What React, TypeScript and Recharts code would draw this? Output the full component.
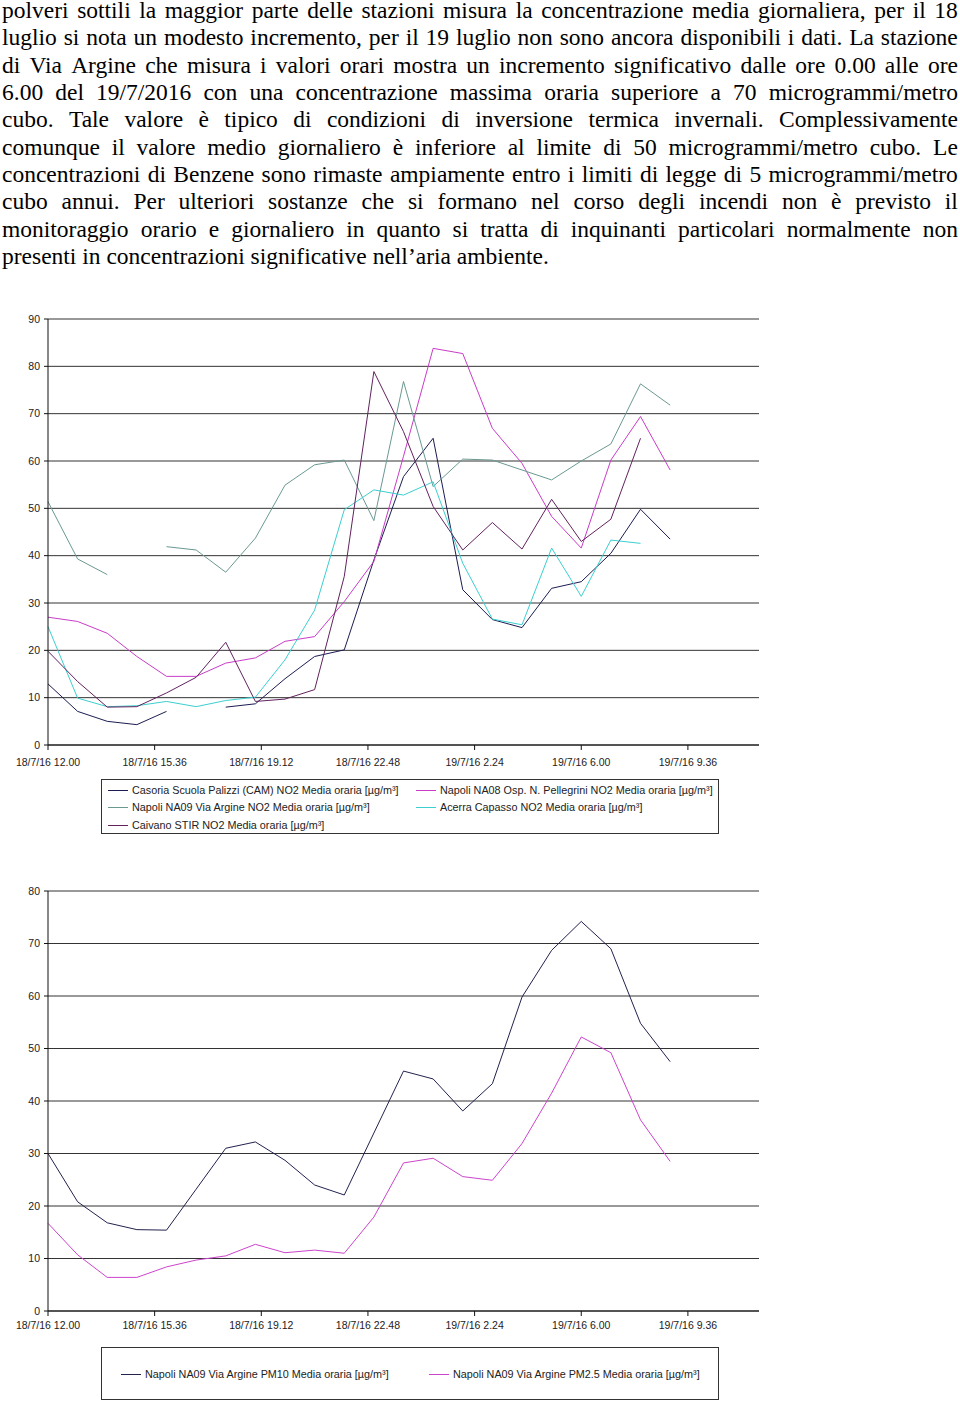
import React from 'react';
import { LineChart, Line, XAxis, YAxis, CartesianGrid } from 'recharts';

// ---------- text ----------
const paragraphLines = [
  'polveri sottili la maggior parte delle stazioni misura la concentrazione media giornaliera, per il 18',
  'luglio si nota un modesto incremento, per il 19 luglio non sono ancora disponibili i dati. La stazione',
  'di Via Argine che misura i valori orari mostra un incremento significativo dalle ore 0.00 alle ore',
  '6.00 del 19/7/2016 con una concentrazione massima oraria superiore a 70 microgrammi/metro',
  'cubo. Tale valore è tipico di condizioni di inversione termica invernali. Complessivamente',
  'comunque il valore medio giornaliero è inferiore al limite di 50 microgrammi/metro cubo. Le',
  'concentrazioni di Benzene sono rimaste ampiamente entro i limiti di legge di 5 microgrammi/metro',
  'cubo annui. Per ulteriori sostanze che si formano nel corso degli incendi non è previsto il',
  'monitoraggio orario e giornaliero in quanto si tratta di inquinanti particolari normalmente non',
  'presenti in concentrazioni significative nell\u2019aria ambiente.',
];

// ---------- data ----------
// hours elapsed since 18/7/16 12.00
const hours = [0, 1, 2, 3, 4, 5, 6, 7, 8, 9, 10, 11, 12, 13, 14, 15, 16, 17, 18, 19, 20, 21];
const xTickValues = [0, 3.6, 7.2, 10.8, 14.4, 18, 21.6];
const xTickLabels = [
  '18/7/16 12.00',
  '18/7/16 15.36',
  '18/7/16 19.12',
  '18/7/16 22.48',
  '19/7/16 2.24',
  '19/7/16 6.00',
  '19/7/16 9.36',
];
const no2Ticks = [0, 10, 20, 30, 40, 50, 60, 70, 80, 90];
const pmTicks = [0, 10, 20, 30, 40, 50, 60, 70, 80];

const casoria = [12.9, 7.1, 5.0, 4.3, 7.1, null, 8.0, 8.7, 14.0, 18.7, 20.1, 39.1, 56.7, 64.8, 32.8, 26.5, 24.8, 33.1, 34.5, 40.5, 49.8, 43.5];
const pellegrini = [27.0, 26.1, 23.6, 18.7, 14.5, 14.5, 17.3, 18.4, 21.9, 22.9, 30.3, 38.8, 61.0, 83.8, 82.7, 66.9, 59.5, 48.3, 41.6, 60.2, 69.4, 58.1];
const viaArgine = [51.4, 39.3, 36.0, null, 41.9, 41.2, 36.5, 43.7, 54.9, 59.2, 60.2, 47.4, 76.8, 54.6, 60.4, 60.2, 58.1, 56.0, 60.0, 63.6, 76.3, 71.8];
const acerra = [25.0, 9.9, 8.1, 8.3, 9.2, 8.1, 9.4, 10.1, 18.0, 28.5, 49.7, 53.9, 52.8, 55.6, 38.4, 26.6, 25.4, 41.6, 31.4, 43.3, 42.6, null];
const caivano = [19.8, 13.4, 8.0, 8.1, 11.0, 14.3, 21.7, 9.2, 9.7, 11.7, 35.6, 78.9, 66.2, 50.4, 41.2, 47.0, 41.4, 51.9, 43.0, 47.7, 64.8, null];

const pm10 = [30.0, 20.8, 16.8, 15.5, 15.4, 23.2, 31.0, 32.2, 28.7, 24.0, 22.1, 33.9, 45.7, 44.2, 38.1, 43.3, 59.8, 68.7, 74.2, 69.0, 54.8, 47.5];
const pm25 = [16.7, 10.7, 6.4, 6.4, 8.4, 9.7, 10.5, 12.7, 11.1, 11.6, 11.0, 17.9, 28.2, 29.1, 25.6, 24.9, 31.9, 41.5, 52.2, 49.2, 36.4, 28.5];

const no2Series = [
  { key: 'casoria', name: 'Casoria Scuola Palizzi (CAM) NO2 Media oraria [µg/m³]', color: '#1c1c52', values: casoria },
  { key: 'pellegrini', name: 'Napoli NA08 Osp. N. Pellegrini NO2 Media oraria [µg/m³]', color: '#c83cc8', values: pellegrini },
  { key: 'viaArgine', name: 'Napoli NA09 Via Argine NO2 Media oraria [µg/m³]', color: '#6a9992', values: viaArgine },
  { key: 'acerra', name: 'Acerra Capasso NO2 Media oraria [µg/m³]', color: '#3ccfcf', values: acerra },
  { key: 'caivano', name: 'Caivano STIR NO2 Media oraria [µg/m³]', color: '#62225e', values: caivano },
];

const pmSeries = [
  { key: 'pm10', name: 'Napoli NA09 Via Argine PM10 Media oraria [µg/m³]', color: '#22224e', values: pm10 },
  { key: 'pm25', name: 'Napoli NA09 Via Argine PM2.5 Media oraria [µg/m³]', color: '#cc44cc', values: pm25 },
];

const buildData = (series: { key: string; values: (number | null)[] }[]) =>
  hours.map((h, i) => {
    const row: Record<string, number | null> = { h };
    series.forEach((s) => {
      row[s.key] = s.values[i];
    });
    return row;
  });

const no2Data = buildData(no2Series);
const pmData = buildData(pmSeries);

const tickFont = { fontSize: 10.5, fontFamily: 'Arial, "Liberation Sans", sans-serif', fill: '#222' };
const formatX = (v: number) => {
  const idx = xTickValues.findIndex((t) => Math.abs(t - v) < 1e-6);
  return idx >= 0 ? xTickLabels[idx] : '';
};

const legendFont: React.CSSProperties = {
  fontSize: 10.8,
  fontFamily: 'Arial, "Liberation Sans", sans-serif',
  color: '#222',
  whiteSpace: 'nowrap',
};

function LegendItem({ x, y, color, name }: { x: number; y: number; color: string; name: string }) {
  return (
    <div style={{ position: 'absolute', left: x, top: y - 8, height: 16, display: 'flex', alignItems: 'center' }}>
      <div style={{ width: 20, height: 0, borderTop: `1.5px solid ${color}`, marginRight: 4 }} />
      <span style={legendFont}>{name}</span>
    </div>
  );
}

export default function App() {
  return (
    <div
      style={{
        position: 'absolute',
        left: 0,
        top: 0,
        width: 960,
        height: 1402,
        overflow: 'hidden',
        background: '#fff',
      }}
    >
      {paragraphLines.map((t, i) => {
        const last = i === paragraphLines.length - 1;
        const words = t.split(' ');
        return (
          <div
            key={i}
            style={{
              position: 'absolute',
              left: 2,
              top: -3 + i * 27.33,
              width: 956,
              height: 27.33,
              lineHeight: '27.33px',
              fontSize: 23.5,
              fontFamily: '"Liberation Serif", "Times New Roman", serif',
              color: '#000',
              display: 'flex',
              justifyContent: last ? 'flex-start' : 'space-between',
              whiteSpace: 'pre',
            }}
          >
            {last ? <span>{t}</span> : words.map((w, j) => <span key={j}>{w}</span>)}
          </div>
        );
      })}

      {/* NO2 chart */}
      <div style={{ position: 'absolute', left: 0, top: 300, width: 780, height: 480 }}>
        <LineChart width={780} height={480} data={no2Data} margin={{ top: 19, right: 21, bottom: 5, left: 0 }}>
          <CartesianGrid vertical={false} stroke="#333" strokeWidth={1} />
          <XAxis
            dataKey="h"
            type="number"
            domain={[0, 24]}
            ticks={xTickValues}
            interval={0}
            tickFormatter={formatX}
            height={30}
            tickSize={5}
            tickMargin={9}
            tick={tickFont}
            axisLine={{ stroke: '#111' }}
            tickLine={{ stroke: '#111' }}
          />
          <YAxis
            type="number"
            domain={[0, 90]}
            ticks={no2Ticks}
            interval={0}
            width={48}
            tickSize={4}
            tickMargin={4}
            tick={tickFont}
            axisLine={{ stroke: '#111' }}
            tickLine={{ stroke: '#111' }}
          />
          {no2Series.map((s) => (
            <Line
              key={s.key}
              type="linear"
              dataKey={s.key}
              name={s.name}
              stroke={s.color}
              strokeWidth={1}
              dot={false}
              activeDot={false}
              connectNulls={false}
              isAnimationActive={false}
            />
          ))}
        </LineChart>
      </div>

      {/* NO2 legend */}
      <div
        style={{
          position: 'absolute',
          left: 101,
          top: 779,
          width: 616,
          height: 53,
          border: '1px solid #333',
        }}
      >
        <LegendItem x={6} y={10} color={no2Series[0].color} name={no2Series[0].name} />
        <LegendItem x={314} y={10} color={no2Series[1].color} name={no2Series[1].name} />
        <LegendItem x={6} y={27} color={no2Series[2].color} name={no2Series[2].name} />
        <LegendItem x={314} y={27} color={no2Series[3].color} name={no2Series[3].name} />
        <LegendItem x={6} y={45} color={no2Series[4].color} name={no2Series[4].name} />
      </div>

      {/* PM chart */}
      <div style={{ position: 'absolute', left: 0, top: 880, width: 780, height: 460 }}>
        <LineChart width={780} height={460} data={pmData} margin={{ top: 11, right: 21, bottom: 4, left: 0 }}>
          <CartesianGrid vertical={false} stroke="#333" strokeWidth={1} />
          <XAxis
            dataKey="h"
            type="number"
            domain={[0, 24]}
            ticks={xTickValues}
            interval={0}
            tickFormatter={formatX}
            height={25}
            tickSize={5}
            tickMargin={6}
            tick={tickFont}
            axisLine={{ stroke: '#111' }}
            tickLine={{ stroke: '#111' }}
          />
          <YAxis
            type="number"
            domain={[0, 80]}
            ticks={pmTicks}
            interval={0}
            width={48}
            tickSize={4}
            tickMargin={4}
            tick={tickFont}
            axisLine={{ stroke: '#111' }}
            tickLine={{ stroke: '#111' }}
          />
          {pmSeries.map((s) => (
            <Line
              key={s.key}
              type="linear"
              dataKey={s.key}
              name={s.name}
              stroke={s.color}
              strokeWidth={1}
              dot={false}
              activeDot={false}
              connectNulls={false}
              isAnimationActive={false}
            />
          ))}
        </LineChart>
      </div>

      {/* PM legend */}
      <div
        style={{
          position: 'absolute',
          left: 101,
          top: 1347,
          width: 616,
          height: 51,
          border: '1px solid #333',
        }}
      >
        <LegendItem x={19} y={26} color={pmSeries[0].color} name={pmSeries[0].name} />
        <LegendItem x={327} y={26} color={pmSeries[1].color} name={pmSeries[1].name} />
      </div>
    </div>
  );
}
